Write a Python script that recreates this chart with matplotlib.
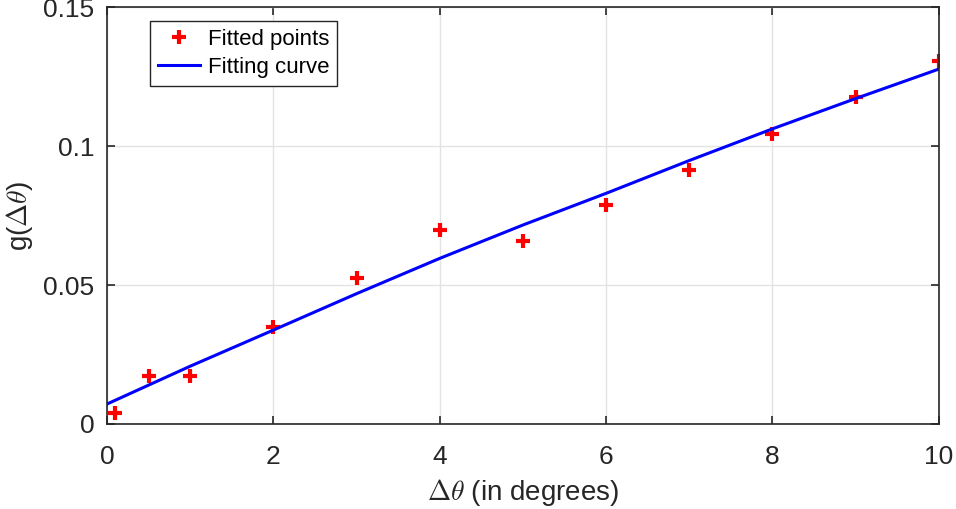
import numpy as np
import matplotlib
matplotlib.use('Agg')
import matplotlib.pyplot as plt

plt.rcParams['font.family'] = ['Liberation Sans', 'DejaVu Sans']
plt.rcParams['mathtext.fontset'] = 'cm'

# fitted points
dtheta = [0.1, 0.5, 1, 2, 3, 4, 5, 6, 7, 8, 9, 10]
g_pts = [0.0040, 0.0174, 0.0174, 0.0350, 0.0526, 0.0698, 0.0658,
         0.0789, 0.0914, 0.1044, 0.1177, 0.1307]

# fitting curve, sampled off the figure
curve_x = [0, 1, 2, 3, 4, 5, 6, 7, 8, 9, 10]
curve_y = [0.0072, 0.0208, 0.0338, 0.0469, 0.0596, 0.0716, 0.0830,
           0.0948, 0.1062, 0.1171, 0.1277]

xticks = [0, 2, 4, 6, 8, 10]
yticks = [0, 0.05, 0.1, 0.15]
ytick_labels = ['0', '0.05', '0.1', '0.15']

fig = plt.figure(figsize=(9.56, 5.09), dpi=100)
ax = fig.add_axes([0.112, 0.167, 0.870, 0.819])

ax.plot(dtheta, g_pts, '+', color='red', markersize=10, mew=3, label='Fitted points')
ax.plot(curve_x, curve_y, '-', color='blue', lw=2.2, label='Fitting curve')

ax.set_xlim(0, 10)
ax.set_ylim(0, 0.15)
ax.set_xticks(xticks)
ax.set_yticks(yticks)
ax.set_yticklabels(ytick_labels)
ax.grid(True, color='#e3e3e3', lw=1)
ax.set_axisbelow(True)

dark = '#262626'
for s in ax.spines.values():
    s.set_color(dark)
    s.set_linewidth(1.2)
ax.tick_params(direction='in', top=True, right=True, length=6, width=1.2,
               colors=dark, labelsize=19)
ax.tick_params(axis='x', pad=15)
ax.tick_params(axis='y', pad=9)

ax.set_xlabel(r'$\Delta\theta$ (in degrees)', fontsize=20, color=dark, labelpad=6)
ax.set_ylabel(r'g($\Delta\theta$)', fontsize=20, color=dark, labelpad=6)

leg = ax.legend(loc='upper left', bbox_to_anchor=(0.052, 0.966), fontsize=16,
                frameon=True, fancybox=False, edgecolor=dark, framealpha=1,
                borderpad=0.35, handlelength=1.9, handletextpad=0.35,
                labelspacing=0.3, numpoints=1, borderaxespad=0)
leg.get_frame().set_linewidth(1.0)

fig.savefig('out.png', dpi=100)
